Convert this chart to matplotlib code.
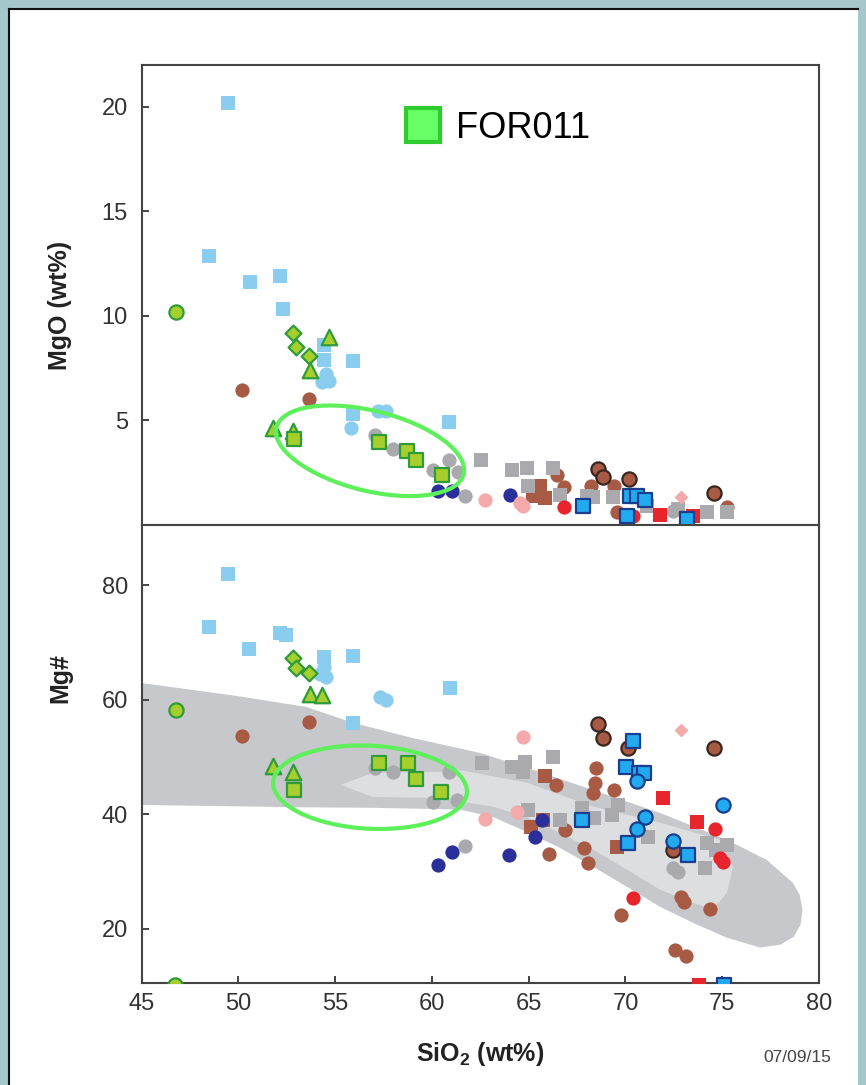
import matplotlib
matplotlib.use("Agg")
from matplotlib import pyplot as plt
from matplotlib.patches import Ellipse, Polygon, Rectangle
from matplotlib.lines import Line2D
from matplotlib.transforms import ScaledTranslation

plt.rcParams['font.family'] = ['Liberation Sans', 'DejaVu Sans']
plt.rcParams['mathtext.default'] = 'regular'

# ---- MgO vs SiO2 (upper panel) ----
sky_sq_si = [49.45, 48.5, 50.6, 52.15, 52.3, 55.93, 54.4, 54.4, 60.9, 55.9]
sky_sq_mgo = [20.2, 12.85, 11.6, 11.9, 10.35, 7.83, 8.6, 7.9, 4.95, 5.3]
sky_ci_si = [54.5, 54.7, 54.3, 57.2, 57.6, 55.8]
sky_ci_mgo = [7.2, 6.9, 6.85, 5.45, 5.45, 4.65]

for_ci_si, for_ci_mgo = [46.77], [10.2]
for_di_si, for_di_mgo = [52.8, 53.0, 53.65], [9.2, 8.5, 8.1]
for_tr_si = [54.7, 53.7, 51.8, 52.8]
for_tr_mgo = [9.0, 7.4, 4.65, 4.5]
for_sq_si = [52.85, 57.25, 58.7, 59.2, 60.5]
for_sq_mgo = [4.1, 3.95, 3.55, 3.1, 2.4]

grey_ci_si = [57.05, 58.0, 60.05, 60.9, 61.35, 61.7, 72.45]
grey_ci_mgo = [4.3, 3.65, 2.65, 3.1, 2.55, 1.4, 0.65]
grey_sq_si = [62.55, 64.15, 64.9, 64.95, 66.25, 66.6, 68.0, 68.3, 69.35,
              71.1, 72.7, 74.2, 75.25]
grey_sq_mgo = [3.1, 2.65, 2.75, 1.85, 2.75, 1.45, 1.4, 1.35, 1.35,
               0.9, 0.75, 0.6, 0.6]
navy_si, navy_mgo = [60.3, 61.05, 64.05], [1.65, 1.65, 1.42]
brown_ci_si = [50.2, 53.65, 66.45, 66.8, 68.2, 69.4, 69.55, 75.25]
brown_ci_mgo = [6.45, 6.05, 2.4, 1.8, 1.85, 1.85, 0.6, 0.85]
brown_sq_si, brown_sq_mgo = [65.6, 65.2, 65.85], [1.85, 1.4, 1.3]
brown_ed_si, brown_ed_mgo = [68.6, 68.85, 70.2, 74.6], [2.7, 2.3, 2.2, 1.55]
pink_ci_si, pink_ci_mgo = [62.75, 64.55, 64.7], [1.2, 1.05, 0.9]
pink_di_si, pink_di_mgo = [72.85], [1.35]
red_ci_si, red_ci_mgo = [66.8, 70.4], [0.85, 0.42]
red_sq_si, red_sq_mgo = [71.8, 73.5], [0.5, 0.42]
blue_sq_si = [67.8, 70.25, 70.6, 71.0, 70.1, 73.2]
blue_sq_mgo = [0.9, 1.38, 1.38, 1.22, 0.42, 0.27]

# ---- Mg# vs SiO2 (lower panel) ----
sky_sq_si2 = [49.45, 48.5, 50.55, 52.15, 52.45, 55.9, 54.4, 60.95, 55.9]
sky_sq_mgn = [81.9, 72.7, 68.8, 71.6, 71.3, 67.6, 67.4, 62.0, 55.9]
sky_ci_si2 = [57.3, 57.65, 54.4, 54.5, 54.2]
sky_ci_mgn = [60.5, 59.9, 65.7, 63.95, 64.5]

for_ci_si2, for_ci_mgn = [46.77, 46.7], [58.2, 10.2]
for_di_si2, for_di_mgn = [52.8, 53.0, 53.65], [67.3, 65.5, 64.65]
for_tr_si2 = [53.7, 54.3, 51.8, 52.8]
for_tr_mgn = [61.0, 60.8, 48.4, 47.4]
for_sq_si2 = [52.85, 57.25, 58.75, 59.2, 60.45]
for_sq_mgn = [44.2, 49.0, 49.0, 46.2, 43.9]

grey_ci_si2 = [57.05, 58.0, 60.9, 60.05, 61.3, 61.7, 72.45, 72.7]
grey_ci_mgn = [48.1, 47.4, 47.4, 42.1, 42.5, 34.5, 30.6, 29.9]
grey_sq_si2 = [62.6, 64.15, 64.8, 64.7, 66.25, 64.95, 66.6, 67.75, 68.35,
               69.3, 69.6, 71.15, 74.2, 75.25, 74.7, 74.1]
grey_sq_mgn = [48.95, 48.25, 49.1, 47.4, 50.0, 40.75, 39.0, 41.1, 39.35,
               39.9, 41.6, 36.0, 34.9, 34.6, 33.8, 30.6]
navy_si2 = [61.05, 60.3, 64.0, 65.7, 65.3]
navy_mgn = [33.4, 31.2, 32.9, 39.0, 36.05]
brown_ci_si2 = [50.2, 53.65, 66.4, 66.9, 66.05, 67.85, 68.05, 68.5, 68.4,
                68.3, 69.4, 69.75, 72.85, 73.05, 74.35, 72.55, 73.15]
brown_ci_mgn = [53.7, 56.1, 45.1, 37.3, 33.1, 34.1, 31.5, 48.1, 45.5,
                43.7, 44.2, 22.3, 25.6, 24.7, 23.5, 16.3, 15.3]
brown_sq_si2, brown_sq_mgn = [65.85, 65.1, 65.75, 69.55], [46.6, 37.8, 39.0, 34.3]
brown_ed_si2 = [68.6, 68.85, 70.15, 74.6, 72.45]
brown_ed_mgn = [55.75, 53.3, 51.6, 51.6, 33.8]
pink_ci_si2, pink_ci_mgn = [64.7, 62.75, 64.4], [53.5, 39.2, 40.4]
pink_di_si2, pink_di_mgn = [72.85], [54.7]
red_sq_si2, red_sq_mgn = [71.95, 73.7, 73.8], [42.9, 38.6, 10.2]
red_ci_si2, red_ci_mgn = [74.65, 75.05, 74.9, 70.4], [37.4, 31.7, 32.4, 25.4]
blue_sq_si2 = [70.4, 70.05, 70.7, 70.95, 70.15, 73.25, 67.75, 75.1]
blue_sq_mgn = [52.8, 48.3, 47.2, 47.2, 34.9, 32.9, 39.0, 10.2]
blue_ci_si2 = [70.6, 71.0, 70.6, 72.45, 75.05]
blue_ci_mgn = [45.8, 39.5, 37.4, 35.3, 41.6]

# reference field (outer and inner envelopes) on the Mg# plot
field_si = [45, 50.0, 53.54, 55.92, 59.0, 62.48, 64.9, 68.33, 71.79, 75.25,
            77.3, 78.65, 79.0, 79.15, 79.05, 78.7, 78.0, 76.95, 75.25, 73.5,
            71.79, 70.08, 68.33, 66.62, 64.9, 63.15, 61.45, 57.0, 53.2, 45]
field_mgn = [62.9, 60.6, 58.7, 55.95, 53.3, 50.7, 48.1, 44.2, 40.2, 35.5,
             32.0, 28.0, 25.9, 23.3, 20.7, 18.6, 17.2, 16.7, 18.4, 21.0,
             23.8, 27.3, 30.8, 34.1, 36.9, 39.5, 40.8, 41.1, 41.2, 41.6]
core_si = [55.26, 56.96, 60.42, 61.45, 64.9, 68.33, 71.79, 74.89, 75.56,
           75.25, 74.53, 73.5, 71.79, 70.08, 68.33, 66.62, 64.9, 63.15,
           60.42, 56.96]
core_mgn = [45.1, 47.2, 47.4, 47.7, 45.5, 41.3, 38.5, 35.5, 30.8,
            26.3, 23.3, 24.5, 26.8, 30.3, 33.8, 36.7, 39.5, 41.3,
            42.8, 43.0]

SKY = '#8bcdef'
YG, GE = '#a6cf2e', '#2f9c3a'
GREY = '#a9a9ae'
NAVY = '#2b2f9a'
BROWN = '#a75a44'
PINK = '#f4a9aa'
RED = '#e8242c'
BLUE, BLUE_E = '#22aaf0', '#1a3d8c'
LIME = '#5ef05a'
AX_C = '#444444'

fig = plt.figure(figsize=(8.66, 10.85), dpi=100)
fig.patch.set_facecolor('#a4c7cb')
fig.patches.append(Rectangle((9 / 866, 0), 849 / 866, 1076 / 1085,
                             transform=fig.transFigure, fc='white',
                             ec='none', zorder=-5))
fig.lines.append(Line2D([9 / 866, 858 / 866], [1076 / 1085] * 2,
                        transform=fig.transFigure, color='#111', lw=1.5))
fig.lines.append(Line2D([9 / 866] * 2, [0, 1076 / 1085],
                        transform=fig.transFigure, color='#111', lw=1.5))

ax1 = fig.add_axes([0.1636, 0.5161, 0.7821, 0.4240])
ax2 = fig.add_axes([0.1636, 0.0940, 0.7821, 0.4221])

S = 105


def plain(ax, x, y, c, m='o', s=S, z=3):
    ax.scatter(x, y, s=s, c=c, marker=m, linewidths=0, zorder=z)


def edged(ax, x, y, c, ec, m='o', s=S, lw=1.6, z=4):
    ax.scatter(x, y, s=s, c=c, marker=m, edgecolors=ec, linewidths=lw, zorder=z)


# upper panel
plain(ax1, sky_sq_si, sky_sq_mgo, SKY, 's')
plain(ax1, sky_ci_si, sky_ci_mgo, SKY)
plain(ax1, brown_ci_si, brown_ci_mgo, BROWN)
plain(ax1, brown_sq_si, brown_sq_mgo, BROWN, 's')
plain(ax1, grey_sq_si, grey_sq_mgo, GREY, 's')
plain(ax1, grey_ci_si, grey_ci_mgo, GREY)
plain(ax1, navy_si, navy_mgo, NAVY)
plain(ax1, pink_ci_si, pink_ci_mgo, PINK)
plain(ax1, pink_di_si, pink_di_mgo, PINK, 'D', 50)
plain(ax1, red_ci_si, red_ci_mgo, RED)
plain(ax1, red_sq_si, red_sq_mgo, RED, 's')
edged(ax1, brown_ed_si, brown_ed_mgo, BROWN, '#3a2620')
edged(ax1, blue_sq_si, blue_sq_mgo, BLUE, BLUE_E, 's')
edged(ax1, for_ci_si, for_ci_mgo, YG, GE)
edged(ax1, for_di_si, for_di_mgo, YG, GE, 'D', 65)
edged(ax1, for_tr_si, for_tr_mgo, YG, GE, '^', 125)
edged(ax1, for_sq_si, for_sq_mgo, YG, GE, 's')

# lower panel
ax2.add_patch(Polygon(list(zip(field_si, field_mgn)), closed=True,
                      fc='#c7c8cb', ec='none', zorder=1))
ax2.add_patch(Polygon(list(zip(core_si, core_mgn)), closed=True,
                      fc='#dcdee0', ec='none', zorder=1.5))
plain(ax2, sky_sq_si2, sky_sq_mgn, SKY, 's')
plain(ax2, sky_ci_si2, sky_ci_mgn, SKY)
plain(ax2, brown_ci_si2, brown_ci_mgn, BROWN)
plain(ax2, brown_sq_si2, brown_sq_mgn, BROWN, 's')
plain(ax2, grey_sq_si2, grey_sq_mgn, GREY, 's')
plain(ax2, grey_ci_si2, grey_ci_mgn, GREY)
plain(ax2, navy_si2, navy_mgn, NAVY)
plain(ax2, pink_ci_si2, pink_ci_mgn, PINK)
plain(ax2, pink_di_si2, pink_di_mgn, PINK, 'D', 50)
plain(ax2, red_ci_si2, red_ci_mgn, RED)
plain(ax2, red_sq_si2, red_sq_mgn, RED, 's')
edged(ax2, brown_ed_si2, brown_ed_mgn, BROWN, '#3a2620')
edged(ax2, blue_sq_si2, blue_sq_mgn, BLUE, BLUE_E, 's')
edged(ax2, blue_ci_si2, blue_ci_mgn, BLUE, BLUE_E)
edged(ax2, for_ci_si2, for_ci_mgn, YG, GE)
edged(ax2, for_di_si2, for_di_mgn, YG, GE, 'D', 65)
edged(ax2, for_tr_si2, for_tr_mgn, YG, GE, '^', 125)
edged(ax2, for_sq_si2, for_sq_mgn, YG, GE, 's')

# FOR011 highlight rings, sized in inches so they keep their shape
for ax, cx, cy, w, h, ang in [(ax1, 56.8, 3.55, 1.93, 0.80, -14),
                              (ax2, 56.8, 44.7, 1.94, 0.83, -3)]:
    tr = fig.dpi_scale_trans + ScaledTranslation(cx, cy, ax.transData)
    ax.add_patch(Ellipse((0, 0), w, h, angle=ang, transform=tr, fill=False,
                         ec=LIME, lw=3, zorder=6))

ax1.set_xlim(45, 80)
ax1.set_ylim(0, 22)
ax2.set_xlim(45, 80)
ax2.set_ylim(10.5, 90.5)

for ax in (ax1, ax2):
    for sp in ax.spines.values():
        sp.set_color(AX_C)
        sp.set_linewidth(1.5)
    ax.tick_params(direction='in', length=5, width=1.4, color=AX_C,
                   labelsize=17, labelcolor='#333333')
    ax.tick_params(axis='y', pad=10)
    ax.tick_params(axis='x', pad=7)

ax1.set_yticks([5, 10, 15, 20])
ax1.set_xticks([])
ax2.set_yticks([20, 40, 60, 80])
ax2.set_xticks([45, 50, 55, 60, 65, 70, 75, 80])

ax1.set_ylabel('MgO (wt%)', fontsize=18, fontweight='bold', color='#222')
ax1.yaxis.set_label_coords(-0.103, 0.478)
ax2.set_ylabel('Mg#', fontsize=18, fontweight='bold', color='#222')
ax2.yaxis.set_label_coords(-0.103, 0.666)
ax2.set_xlabel('SiO$_2$ (wt%)', fontsize=18, fontweight='bold', color='#222')
ax2.xaxis.set_label_coords(0.5, -0.125)

ax1.legend(handles=[Line2D([], [], ls='', marker='s', markersize=24,
                           mfc='#66ff66', mec='#2ecc2e', mew=3)],
           labels=['FOR011'], loc='center left', bbox_to_anchor=(0.389, 0.862),
           frameon=False, fontsize=26, handlelength=1.0, handletextpad=0.42,
           borderpad=0, borderaxespad=0)

fig.text(0.921, 0.025, '07/09/15', fontsize=12.5, ha='center', va='center',
         color='#444')

fig.savefig('out.png', dpi=100)
